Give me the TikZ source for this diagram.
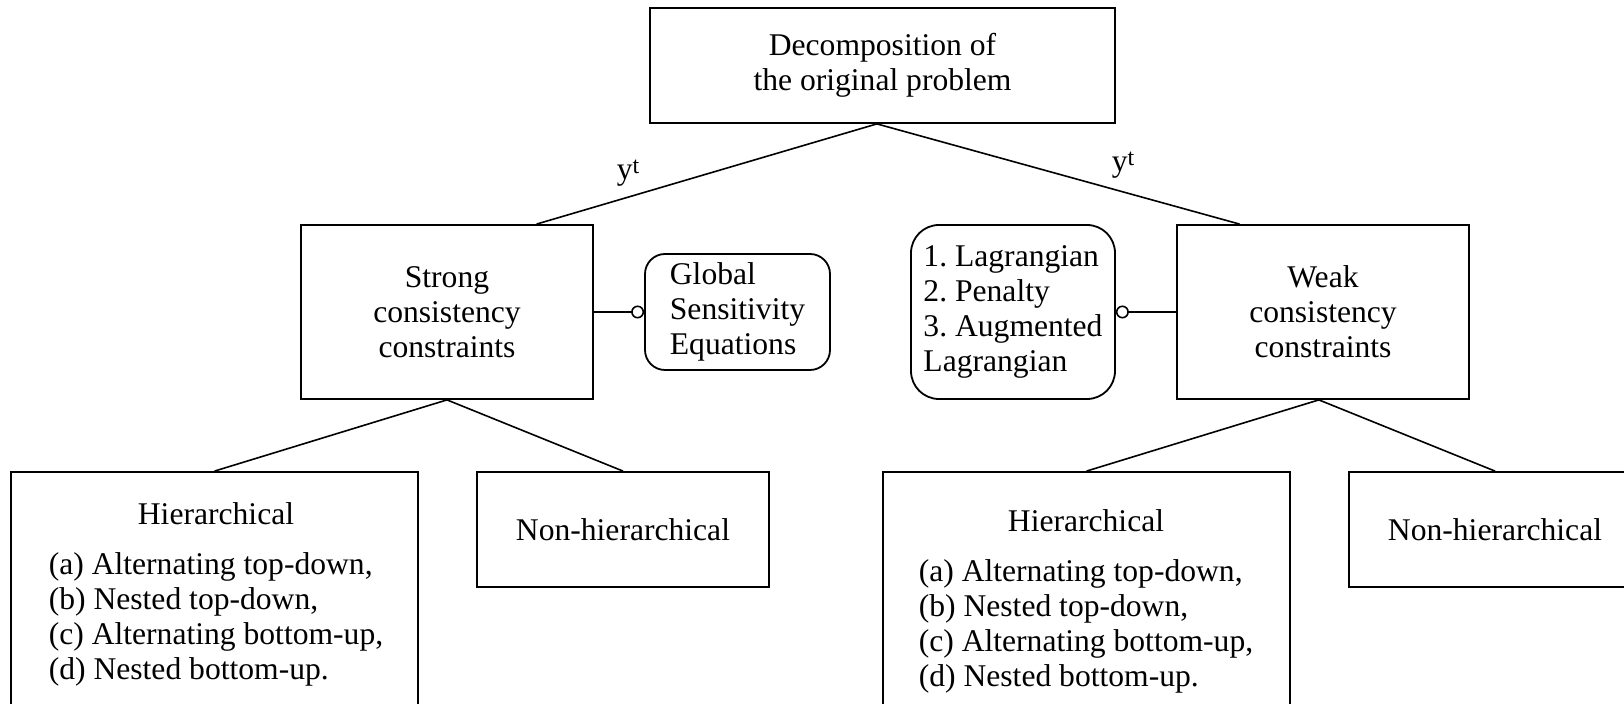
\documentclass[tikz,border=0pt]{standalone}
\usepackage{fontspec}
\setmainfont{Liberation Serif}
\usetikzlibrary{arrows.meta,calc}
% upright y with a raised t
\newcommand{\ysupt}{y\raisebox{3.2pt}{\fontsize{12}{12}\selectfont t}}
\newcommand{\hierlist}{Hierarchical\\[11.5pt]\begin{tabular}{@{}l@{}}(a) Alternating top-down,\\(b) Nested top-down,\\(c) Alternating bottom-up,\\(d) Nested bottom-up.\end{tabular}}
\begin{document}
\begin{tikzpicture}[x=0.5pt,y=-0.5pt,
  box/.style={draw, line width=0.9pt, inner sep=0pt},
  rbox/.style={box, align=left},
  txt/.style={align=center, inner sep=0pt},
  link/.style={line width=0.8pt},
  knob/.style={line width=0.8pt, -{Circle[open,length=6.5pt,width=6.5pt,line width=0.8pt]}},
  every node/.style={font=\fontsize{15.8}{17.5}\selectfont},
]
\useasboundingbox (0,0) rectangle (1624,704);
\clip (0,0) rectangle (1624,704);

% root
\node[box, align=center, minimum width=232.5pt, minimum height=57.5pt] (top) at (882.5,65.5)
  {Decomposition of\\the original problem};

% second level
\node[box, align=center, minimum width=146pt, minimum height=87pt] (strong) at (447,312)
  {Strong\\consistency\\constraints};
\node[rbox, rounded corners=10pt, minimum width=92.5pt, minimum height=58pt] (global) at (737.5,312)
  {Global\\Sensitivity\\Equations};
\node[rbox, rounded corners=14pt, minimum width=102pt, minimum height=87pt] (lag) at (1013,312)
  {1.\ Lagrangian\\2.\ Penalty\\3.\ Augmented\\Lagrangian};
\node[box, align=center, minimum width=146pt, minimum height=87pt] (weak) at (1323,312)
  {Weak\\consistency\\constraints};

% third level
\node[box, minimum width=203.5pt, minimum height=129pt] (hierL) at (214.5,601) {};
\node[txt] (hierLtxt) at (216,596) {\hierlist};
\node[box, minimum width=146pt, minimum height=57.5pt] (nonL) at (623,529.5) {Non-hierarchical};

\node[box, minimum width=203.5pt, minimum height=129pt] (hierR) at (1086.5,601) {};
\node[txt] (hierRtxt) at (1086,603) {\hierlist};
\node[box, minimum width=146pt, minimum height=57.5pt] (nonR) at (1495,529.5) {Non-hierarchical};

% tree connectors
\coordinate (apex) at ($(top.south west)!0.488!(top.south east)$);
\draw[link] (apex) -- ($(strong.north west)!0.805!(strong.north east)$);
\draw[link] (apex) -- ($(weak.north west)!0.216!(weak.north east)$);
\draw[link] (hierL.north) -- (strong.south) -- (nonL.north);
\draw[link] (hierR.north) -- ($(weak.south west)!0.486!(weak.south east)$) -- (nonR.north);

% side attachments
\draw[knob] (strong.east) -- (global.west);
\draw[knob] (weak.west) -- (lag.east);

% labels on the root branches
\node (yL) at (628,173) {\ysupt};
\node (yR) at (1123,165) {\ysupt};
\end{tikzpicture}
\end{document}
